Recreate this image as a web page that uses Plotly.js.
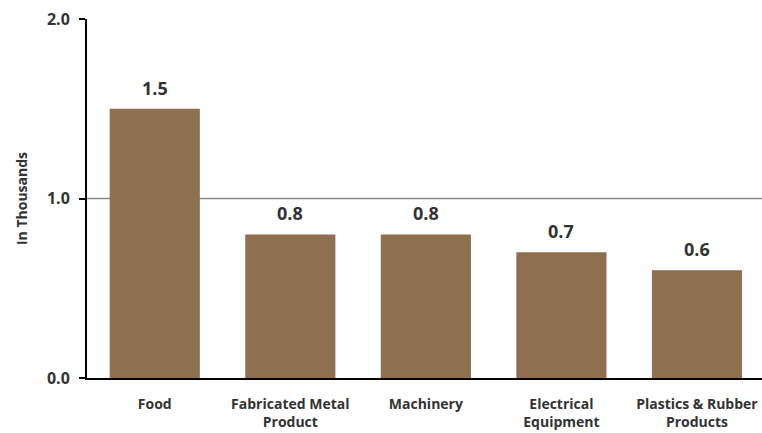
<!DOCTYPE html>
<html>
<head>
<meta charset="utf-8">
<script src="https://cdn.plot.ly/plotly-3.0.1.min.js"></script>
<style>html,body{margin:0;padding:0;background:#fff;}#chart{width:762px;height:433px;}</style>
</head>
<body>
<div id="chart"></div>
<script>
const categories = ["Food", "Fabricated Metal<br>Product", "Machinery", "Electrical<br>Equipment", "Plastics & Rubber<br>Products"];
const values = [1.5, 0.8, 0.8, 0.7, 0.6];
const labels = ["1.5", "0.8", "0.8", "0.7", "0.6"];
const yTicks = [0, 1, 2];
const yTickText = ["0.0", "1.0", "2.0"];

const FONT = "Open Sans, Liberation Sans, sans-serif";

const trace = {
  type: "bar",
  x: categories,
  y: values,
  marker: { color: "#8e6f50" },
  hoverinfo: "none",
  width: 0.665
};

const annotations = categories.map((c, i) => ({
  x: c, y: values[i], xref: "x", yref: "y",
  text: "<b>" + labels[i] + "</b>",
  showarrow: false, yanchor: "bottom", yshift: 7,
  font: { family: FONT, size: 18, color: "#333333" }
}));

const layout = {
  width: 762, height: 433,
  margin: { l: 87, r: 0, t: 19, b: 55 },
  paper_bgcolor: "#ffffff",
  plot_bgcolor: "#ffffff",
  showlegend: false,
  xaxis: {
    type: "category",
    range: [-0.5, 4.48],
    showline: true, linecolor: "#000000", linewidth: 2,
    ticks: "", showgrid: false, zeroline: false,
    ticklabelstandoff: 12,
    tickfont: { family: FONT, size: 14, color: "#333333", weight: "bold" },
    automargin: false
  },
  yaxis: {
    range: [0, 2],
    tickvals: yTicks, ticktext: yTickText,
    showline: true, linecolor: "#000000", linewidth: 2,
    ticks: "outside", ticklen: 6, tickwidth: 2, tickcolor: "#000000",
    ticklabelstandoff: 6,
    showgrid: false, zeroline: false,
    tickfont: { family: FONT, size: 16, color: "#333333", weight: "bold" },
    title: { text: "<b>In Thousands</b>", font: { family: FONT, size: 14, color: "#333333" }, standoff: 16 },
    automargin: false
  },
  shapes: [{
    type: "line", xref: "paper", yref: "y", x0: 0, x1: 1, y0: 1, y1: 1,
    line: { color: "#888888", width: 1.5 }, layer: "below"
  }],
  annotations: annotations
};

Plotly.newPlot("chart", [trace], layout, { staticPlot: true, displayModeBar: false });
</script>
</body>
</html>
